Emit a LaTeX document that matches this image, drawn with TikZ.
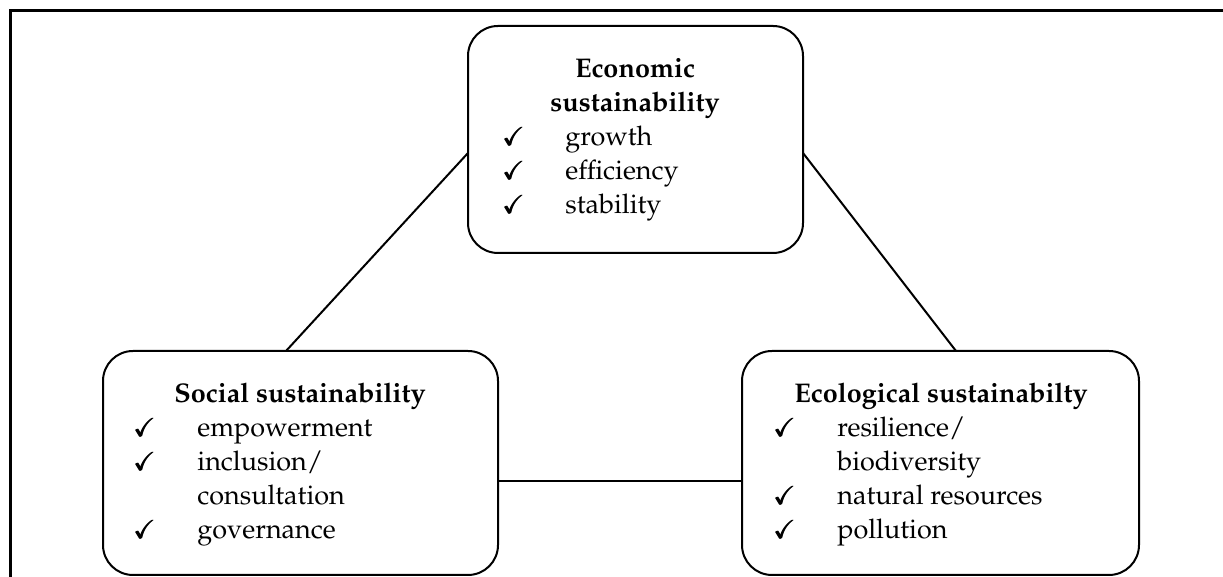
\documentclass[tikz,border=0pt]{standalone}
\IfFileExists{mathpazo.sty}{%
  \usepackage[T1]{fontenc}\usepackage{mathpazo}%
}{%
  \usepackage{fontspec}\setmainfont{Liberation Serif}%
}
\usepackage{amsmath}
\usepackage{amssymb}
\usetikzlibrary{calc}
\newcommand{\tickmark}{$\pmb{\checkmark}$}
\begin{document}
\begin{tikzpicture}[x=0.5pt,y=0.5pt,
  pillar/.style={draw=black, line width=1pt, rounded corners=15pt, inner sep=0pt, outer sep=0pt},
  link/.style={line width=1pt},
  frame/.style={line width=1.5pt},
  txt/.style={font=\fontsize{13.5}{16}\selectfont, inner sep=0pt},
  title/.style={txt, font=\fontsize{13.5}{16}\selectfont\bfseries, anchor=base},
  entry/.style={txt, anchor=base west},
  tick/.style={inner sep=0pt, anchor=base, font=\fontsize{12.5}{15}\selectfont}
]
\useasboundingbox (0,0) rectangle (1223,577);

% open frame around the figure
\draw[frame] (1240,566) -- (10,566) -- (10,-20);

% the three pillars
\node[pillar, minimum width=167.5pt, minimum height=113.5pt] (eco) at (635.5,437.5) {};
\node[pillar, minimum width=197.5pt, minimum height=112pt] (soc) at (300.5,114) {};
\node[pillar, minimum width=198.5pt, minimum height=112pt] (env) at (940.5,114) {};

% connectors
\draw[link] ($(soc.north)+(-14.5,0)$) -- ($(eco.west)+(0,-13.5)$);
\draw[link] ($(eco.east)+(0,-13.5)$) -- ($(env.north)+(15.5,0)$);
\draw[link] ($(soc.east)+(0,-18)$) -- ($(env.west)+(0,-18)$);

% economic
\node[title] (ecoA) at (635,499) {Economic};
\node[title] (ecoB) at (635,465) {sustainability};
\node[tick] (ecoK1) at (514,431) {\tickmark};
\node[entry] (eco1) at (565,431) {growth};
\node[tick] (ecoK2) at (514,397) {\tickmark};
\node[entry] (eco2) at (565,397) {efficiency};
\node[tick] (ecoK3) at (514,363) {\tickmark};
\node[entry] (eco3) at (565,363) {stability};

% social
\node[title] (socA) at (300,174) {Social sustainability};
\node[tick] (socK1) at (145,140) {\tickmark};
\node[entry] (soc1) at (197,140) {empowerment};
\node[tick] (socK2) at (145,106) {\tickmark};
\node[entry] (soc2) at (197,106) {inclusion/};
\node[entry] (soc2b) at (197,72) {consultation};
\node[tick] (socK3) at (145,38) {\tickmark};
\node[entry] (soc3) at (197,38) {governance};

% ecological
\node[title] (envA) at (941,174) {Ecological sustainabilty};
\node[tick] (envK1) at (785,140) {\tickmark};
\node[entry] (env1) at (837,140) {resilience/};
\node[entry] (env1b) at (837,106) {biodiversity};
\node[tick] (envK2) at (785,72) {\tickmark};
\node[entry] (env2) at (837,72) {natural resources};
\node[tick] (envK3) at (785,38) {\tickmark};
\node[entry] (env3) at (837,38) {pollution};
\end{tikzpicture}
\end{document}
